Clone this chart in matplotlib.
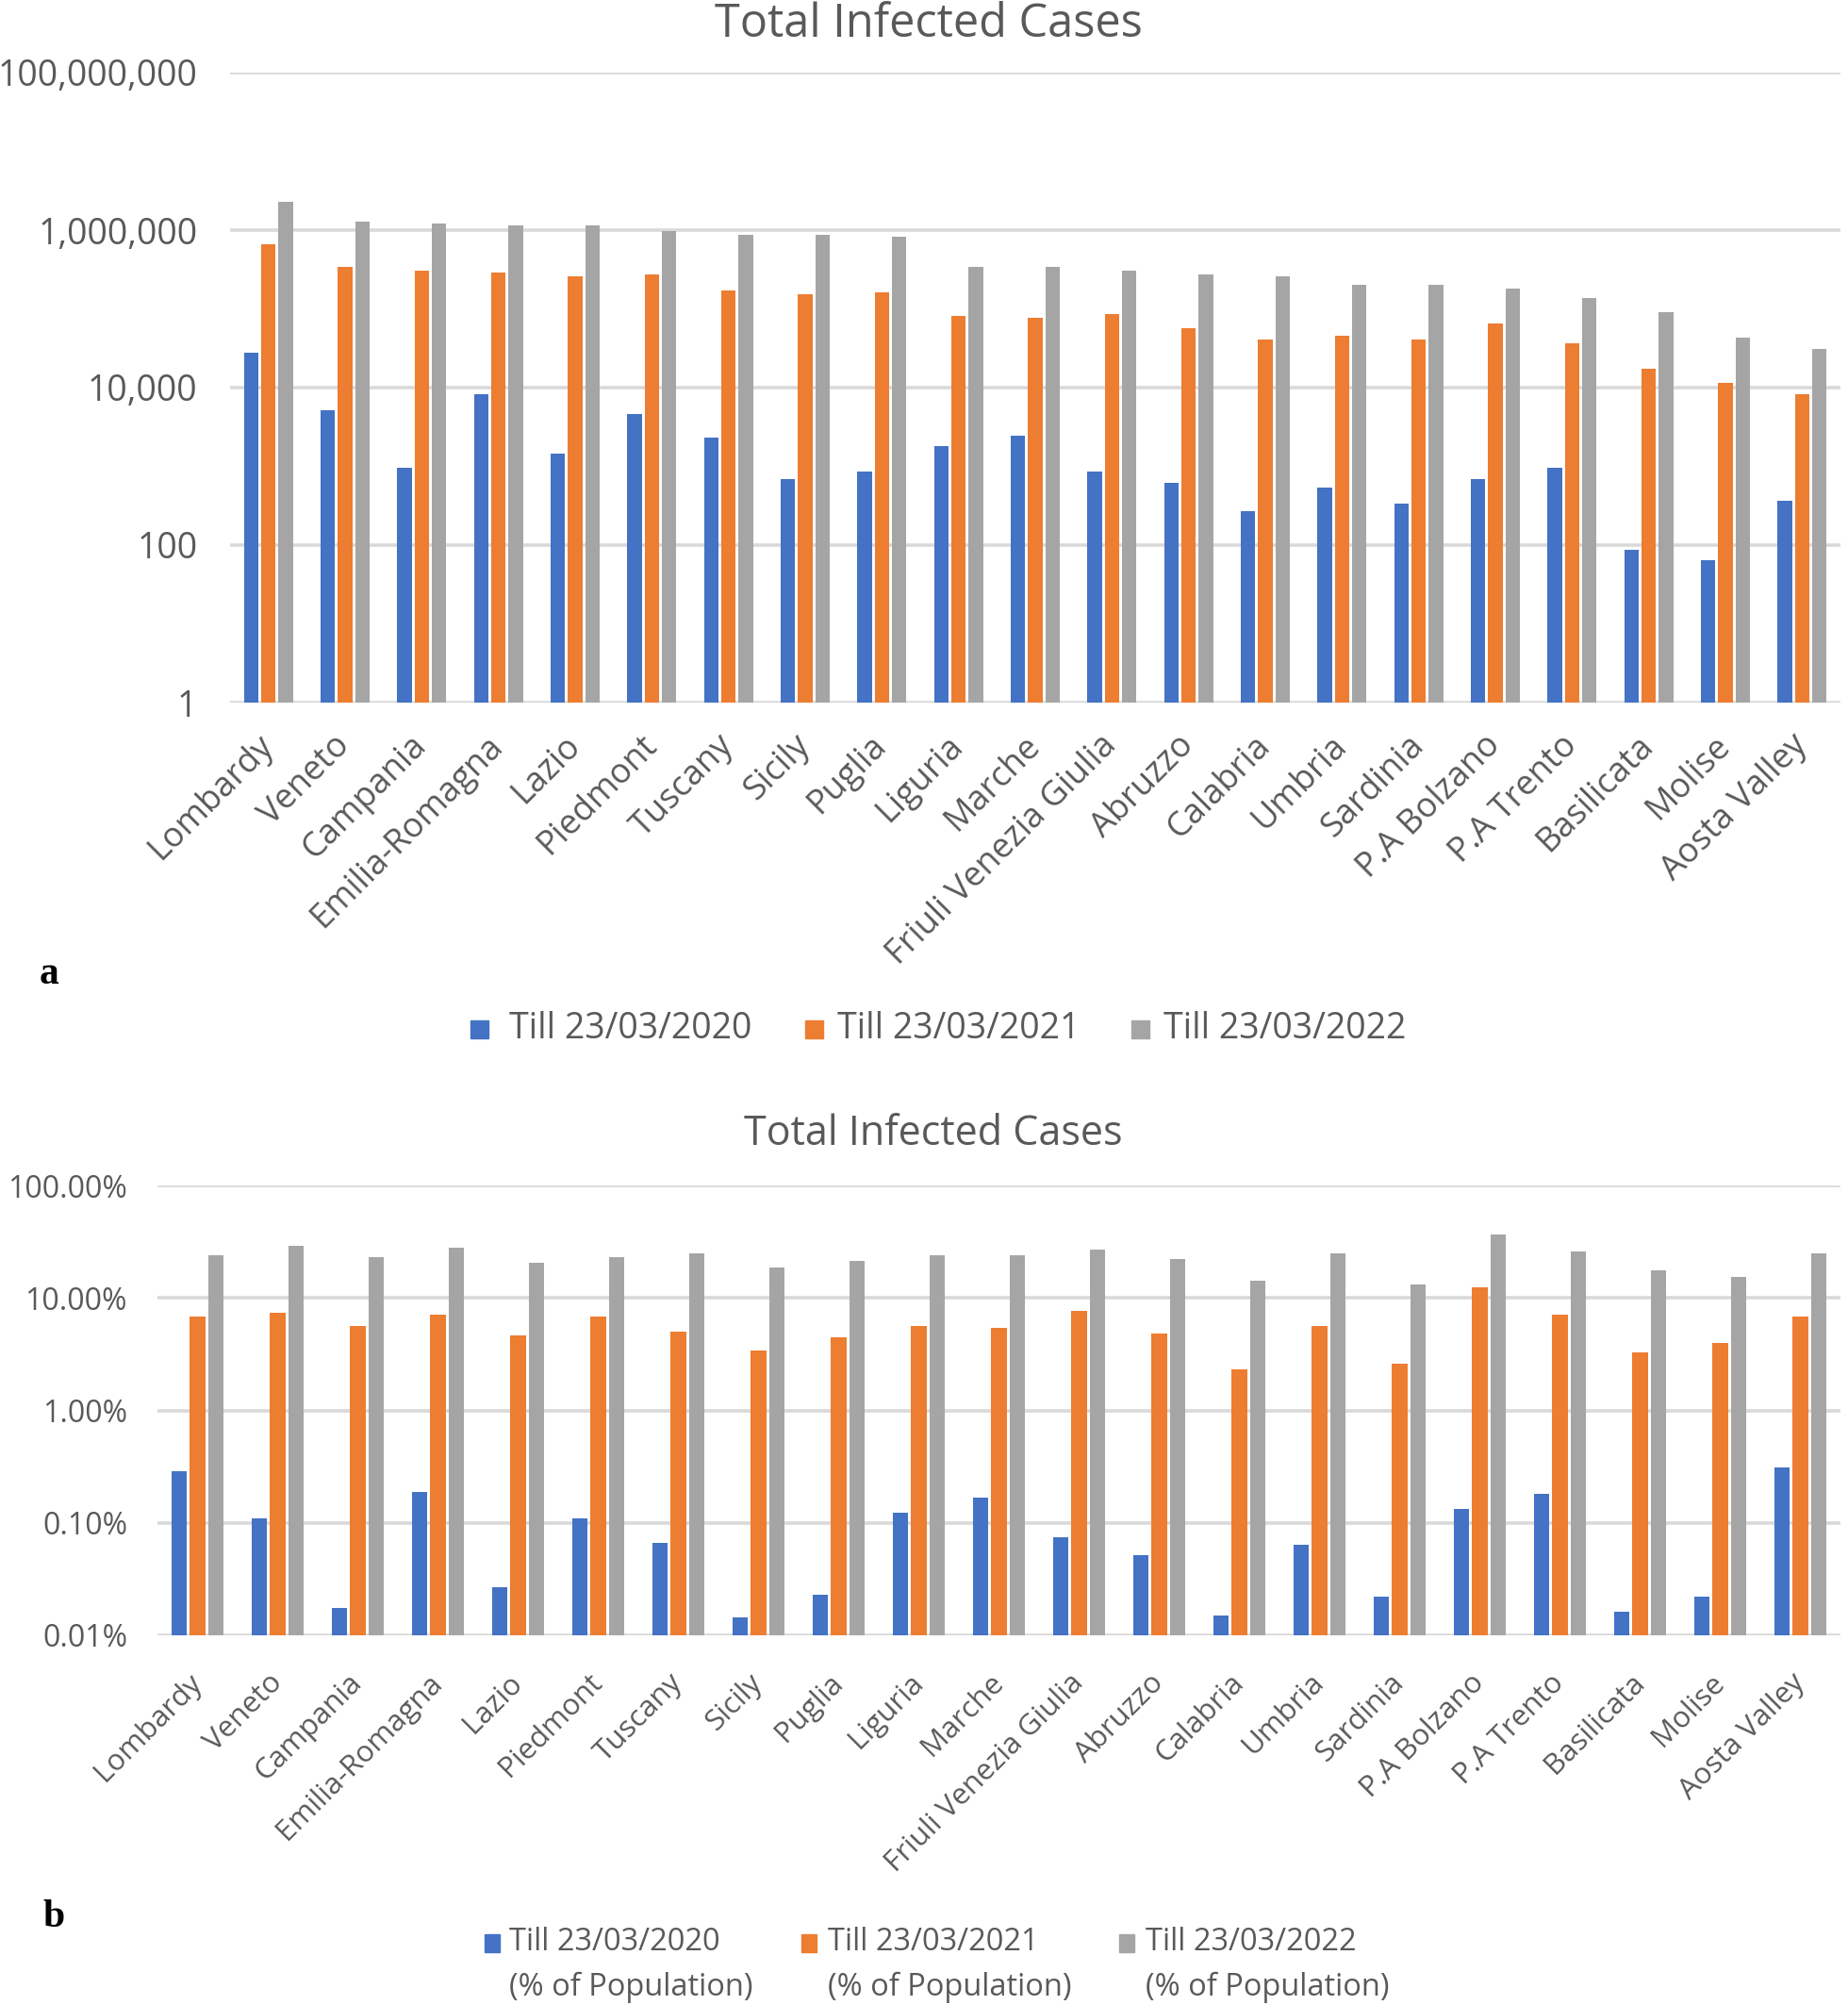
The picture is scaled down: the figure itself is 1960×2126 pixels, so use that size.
import matplotlib
matplotlib.use("Agg")
import matplotlib.pyplot as plt
from matplotlib.patches import Rectangle
from matplotlib.ticker import FixedLocator, FuncFormatter
import numpy as np

plt.rcParams['font.family'] = ['Open Sans', 'DejaVu Sans']

regions = ["Lombardy", "Veneto", "Campania", "Emilia-Romagna", "Lazio", "Piedmont",
           "Tuscany", "Sicily", "Puglia", "Liguria", "Marche", "Friuli Venezia Giulia",
           "Abruzzo", "Calabria", "Umbria", "Sardinia", "P.A Bolzano", "P.A Trento",
           "Basilicata", "Molise", "Aosta Valley"]

series_labels = ["Till 23/03/2020", "Till 23/03/2021", "Till 23/03/2022"]

cases_2020 = [27500, 5140, 961, 8190, 1450, 4560, 2310, 680, 864, 1820, 2440,
              864, 611, 271, 542, 340, 680, 961, 86, 65, 364]
cases_2021 = [653000, 345000, 306000, 290000, 257000, 275000, 172000, 153000, 164000,
              80900, 76600, 86300, 57200, 40400, 45600, 40400, 64400, 36400, 17300,
              11400, 8190]
cases_2022 = [2310000, 1290000, 1220000, 1140000, 1140000, 973000, 863000, 863000,
              818000, 345000, 345000, 306000, 271000, 257000, 202000, 202000, 182000,
              136000, 91200, 43200, 30600]

pct_2020 = [0.286, 0.110, 0.0175, 0.188, 0.0267, 0.110, 0.0669, 0.0145, 0.0228, 0.123,
            0.168, 0.075, 0.0514, 0.0150, 0.0642, 0.0221, 0.133, 0.181, 0.0163, 0.0221,
            0.308]
pct_2021 = [6.83, 7.35, 5.65, 7.11, 4.64, 6.83, 5.00, 3.43, 4.49, 5.65, 5.42, 7.66,
            4.83, 2.33, 5.65, 2.61, 12.5, 7.11, 3.31, 4.00, 6.83]
pct_2022 = [24.0, 29.0, 23.2, 28.0, 20.7, 23.2, 25.0, 18.5, 21.4, 24.0, 24.0, 26.9,
            22.3, 14.1, 25.0, 13.1, 36.5, 26.0, 17.7, 15.3, 25.0]

colors = ["#4472C4", "#ED7D31", "#A5A5A5"]
txt = "#595959"
grid = "#D9D9D9"

W, H = 1960, 2126
fig = plt.figure(figsize=(W / 100, H / 100), dpi=100)


def fx(px):
    return px / W


def fy(py):
    return 1 - py / H


def setup(ax, ticks, fmt, fs_y, fs_x, pad_y, pad_x):
    ax.set_yscale('log')
    ax.set_ylim(ticks[0], ticks[-1])
    ax.yaxis.set_major_locator(FixedLocator(ticks))
    ax.yaxis.set_minor_locator(FixedLocator([]))
    ax.yaxis.set_major_formatter(FuncFormatter(fmt))
    ax.set_xlim(-0.5, len(regions) - 0.5)
    for s in ax.spines.values():
        s.set_visible(False)
    ax.grid(axis='y', color=grid, linewidth=2.6, zorder=0)
    ax.set_axisbelow(True)
    ax.tick_params(axis='both', length=0, colors=txt)
    ax.tick_params(axis='y', labelsize=fs_y, pad=pad_y)
    ax.set_xticks(np.arange(len(regions)))
    ax.set_xticklabels(regions, rotation=45, ha='right', va='center',
                       rotation_mode='anchor', fontsize=fs_x, color=txt)
    ax.tick_params(axis='x', pad=pad_x)


x = np.arange(len(regions))
off = 0.225
bw = 0.19

# Panel a
axa = fig.add_axes([fx(244), fy(745), fx(1952) - fx(244), fy(77) - fy(745)])
for i, (vals, c) in enumerate(zip([cases_2020, cases_2021, cases_2022], colors)):
    axa.bar(x + (i - 1) * off, vals, width=bw, color=c, zorder=2)
setup(axa, [1, 100, 10000, 1000000, 100000000], lambda v, p: f"{int(round(v)):,}",
      27, 26, 25, 29)
fig.text(fx(985), fy(26), "Total Infected Cases", ha='center', va='center', fontsize=35, color=txt)

# Panel b
axb = fig.add_axes([fx(167), fy(1734), fx(1952) - fx(167), fy(1257) - fy(1734)])
for i, (vals, c) in enumerate(zip([pct_2020, pct_2021, pct_2022], colors)):
    axb.bar(x + (i - 1) * off, vals, width=bw, color=c, zorder=2)
setup(axb, [0.01, 0.1, 1, 10, 100], lambda v, p: f"{v:.2f}%", 23, 22.5, 23, 33)
fig.text(fx(990), fy(1203), "Total Infected Cases", ha='center', va='center', fontsize=31, color=txt)

# panel letters
fig.text(fx(52), fy(1033), "a", ha='center', va='center', fontsize=30, fontweight='bold',
         family='Liberation Serif', color='black')
fig.text(fx(57), fy(2033), "b", ha='center', va='center', fontsize=30, fontweight='bold',
         family='Liberation Serif', color='black')

# legend a
sq = 19
for (sx, tx), c, lab in zip([(499, 540), (854, 888), (1200, 1234)], colors, series_labels):
    fig.add_artist(Rectangle((fx(sx), fy(1091 + sq / 2)), sq / W, sq / H,
                             transform=fig.transFigure, color=c))
    fig.text(fx(tx), fy(1091), lab, ha='left', va='center', fontsize=27, color=txt)

# legend b
for (sx, tx), c, lab in zip([(514, 540), (850, 878), (1187, 1215)], colors, series_labels):
    fig.add_artist(Rectangle((fx(sx), fy(2060 + sq / 2)), (sq - 3) / W, sq / H,
                             transform=fig.transFigure, color=c))
    fig.text(fx(tx), fy(2060), lab, ha='left', va='center', fontsize=23.5, color=txt)
    fig.text(fx(tx), fy(2107), "(% of Population)", ha='left', va='center', fontsize=23.5, color=txt)

fig.savefig("out.png", dpi=100, facecolor='white')
